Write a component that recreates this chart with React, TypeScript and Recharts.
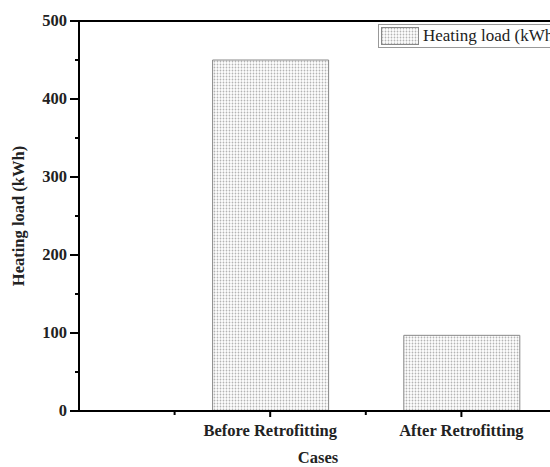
import React from 'react';
import { BarChart, Bar, XAxis, YAxis, Legend, Label, ReferenceLine } from 'recharts';

const cases = ['Before Retrofitting', 'After Retrofitting'];
const casePositions = [1, 2];
const heatingLoad = [450, 97];

const yTicks = [0, 50, 100, 150, 200, 250, 300, 350, 400, 450, 500];
const xTicks = [0.5, 1, 1.5, 2, 2.5];

const data = cases.map((name, i) => ({ name, pos: casePositions[i], load: heatingLoad[i] }));

const FONT = '"Liberation Serif", "Times New Roman", serif';

function XTick(props: any) {
  const { x, y, payload } = props;
  const major = Number.isInteger(payload.value);
  const idx = casePositions.indexOf(payload.value);
  return (
    <g>
      <line x1={x} x2={x} y1={y} y2={y + (major ? 6 : 4)} stroke="#000" strokeWidth={2} />
      {idx >= 0 && (
        <text x={x} y={y + 25} textAnchor="middle" fontFamily={FONT} fontWeight="bold" fontSize={16.5} fill="#222">
          {cases[idx]}
        </text>
      )}
    </g>
  );
}

function YTick(props: any) {
  const { x, y, payload } = props;
  const major = payload.value % 100 === 0;
  return (
    <g>
      <line x1={x} x2={x - (major ? 9 : 4)} y1={y} y2={y} stroke="#000" strokeWidth={2} />
      {major && (
        <text x={x - 12} y={y + 5} textAnchor="end" fontFamily={FONT} fontWeight="bold" fontSize={16.5} fill="#222">
          {payload.value}
        </text>
      )}
    </g>
  );
}

function LegendBox() {
  return (
    <div
      style={{
        display: 'flex',
        alignItems: 'center',
        border: '1px solid #999',
        height: 22,
        width: 186,
        padding: '0 2px',
        background: '#fff',
        fontFamily: FONT,
        fontSize: 17,
        color: '#222',
        whiteSpace: 'nowrap',
      }}
    >
      <svg width={38} height={18} style={{ marginRight: 4 }}>
        <rect x={0.5} y={0.5} width={37} height={17} fill="url(#dots)" stroke="#888" />
      </svg>
      Heating load (kWh)
    </div>
  );
}

export default function App() {
  return (
    <div style={{ position: 'absolute', left: 0, top: 0, width: 550, height: 467, overflow: 'hidden', background: '#fff' }}>
      <BarChart width={570} height={467} data={data} margin={{ top: 21, right: 13, left: 0, bottom: 0 }}>
        <defs>
          <pattern id="dots" width={3} height={3} patternUnits="userSpaceOnUse">
            <rect width={3} height={3} fill="#fff" />
            <circle cx={1.5} cy={1.5} r={0.9} fill="#b4b4b4" />
          </pattern>
        </defs>
        <XAxis
          type="number"
          dataKey="pos"
          domain={[0, 2.5]}
          ticks={xTicks}
          interval={0}
          height={56}
          tickSize={0}
          tickMargin={0}
          tickLine={false}
          axisLine={{ stroke: '#000', strokeWidth: 2 }}
          tick={<XTick />}
        >
          <Label
            content={({ viewBox }: any) => (
              <text
                x={viewBox.x + viewBox.width / 2}
                y={463}
                textAnchor="middle"
                fontFamily={FONT}
                fontWeight="bold"
                fontSize={16.5}
                fill="#222"
              >
                Cases
              </text>
            )}
          />
        </XAxis>
        <YAxis
          type="number"
          domain={[0, 500]}
          ticks={yTicks}
          interval={0}
          width={79}
          tickSize={0}
          tickMargin={0}
          tickLine={false}
          axisLine={{ stroke: '#000', strokeWidth: 2 }}
          tick={<YTick />}
        >
          <Label
            content={({ viewBox }: any) => (
              <text
                x={18}
                y={viewBox.y + viewBox.height / 2}
                transform={`rotate(-90, 18, ${viewBox.y + viewBox.height / 2})`}
                textAnchor="middle"
                dominantBaseline="central"
                fontFamily={FONT}
                fontWeight="bold"
                fontSize={16.5}
                fill="#222"
              >
                Heating load (kWh)
              </text>
            )}
          />
        </YAxis>
        <ReferenceLine y={500} stroke="#000" strokeWidth={2} />
        <Legend
          layout="vertical"
          align="center"
          verticalAlign="middle"
          wrapperStyle={{ left: 378, top: 24, width: 190 }}
          content={() => <LegendBox />}
        />
        <Bar
          dataKey="load"
          name="Heating load (kWh)"
          barSize={116}
          fill="url(#dots)"
          stroke="#888"
          strokeWidth={1}
          isAnimationActive={false}
        />
      </BarChart>
    </div>
  );
}
